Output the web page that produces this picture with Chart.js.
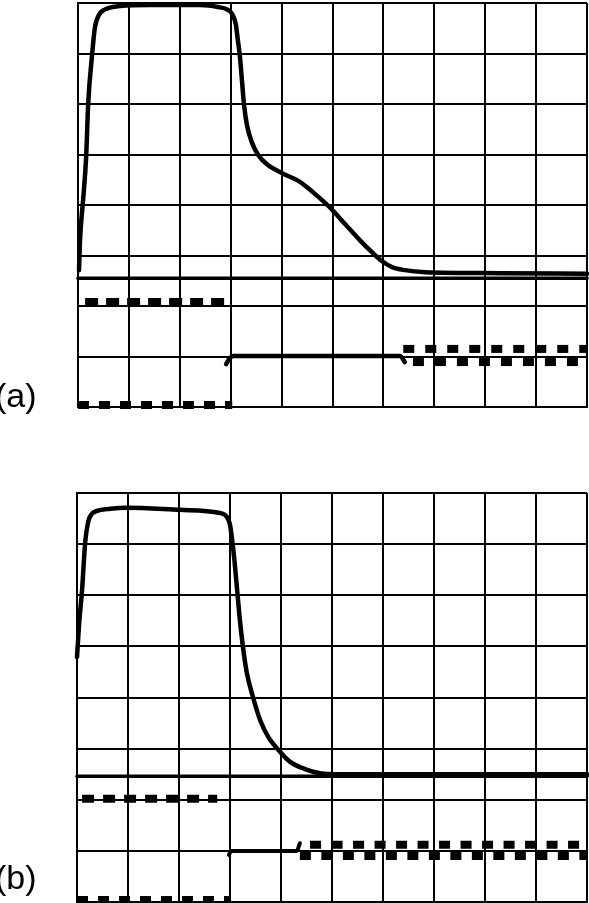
<!DOCTYPE html>
<html>
<head>
<meta charset="utf-8">
<script src="https://cdn.jsdelivr.net/npm/chart.js@4.4.1/dist/chart.umd.min.js"></script>
<style>
  html, body { margin: 0; padding: 0; background: #fff; }
  body { width: 589px; height: 903px; position: relative; overflow: hidden; }
  canvas { position: absolute; left: 0; }
  #cTop { top: 0; }
  #cBot { top: 488px; }
  .lbl { position: absolute; left: -5px; font-family: "Liberation Sans", Arial, sans-serif; font-size: 34px; line-height: 34px; color: #000; }
</style>
</head>
<body>
<canvas id="cTop" width="589" height="412"></canvas>
<canvas id="cBot" width="589" height="415"></canvas>
<div class="lbl" style="top:378px">(a)</div>
<div class="lbl" style="top:860px">(b)</div>
<script>
// Axis divisions (oscilloscope graticule)
const xDivisions = [0, 10];
const yDivisions = [0, 8];

// Panel (a): analog trace (x, y in divisions)
const traceAX = [0.02,0.04,0.10,0.16,0.20,0.28,0.33,0.41,0.55,0.83,1.41,2.40,2.75,2.93,3.03,3.10,3.14,3.18,3.22,3.26,3.32,3.42,3.54,3.73,4.01,4.36,4.62,4.95,5.25,5.54,5.78,5.97,6.17,6.42,6.82,8.29,10.0];
const traceAY = [2.71,3.31,4.10,4.95,6.00,7.01,7.50,7.76,7.88,7.94,7.96,7.96,7.92,7.87,7.78,7.58,7.27,6.95,6.48,6.00,5.58,5.23,4.99,4.79,4.63,4.46,4.25,3.95,3.62,3.30,3.06,2.89,2.77,2.71,2.67,2.65,2.64];
const baselineA = 2.55;
// Panel (a): digital lines
const gateHighA = { x: [0.14, 2.89], y: 2.08 };
const gateLowA  = { x: [0.00, 3.03], y: 0.04 };
const levelAX = [2.91, 2.97, 3.05, 6.33, 6.42];
const levelAY = [0.85, 0.95, 1.01, 1.01, 0.89];
const clockHighA = { x: [6.39, 10.0], y: 1.15 };
const clockLowA  = { x: [6.58, 10.0], y: 0.89 };

// Panel (b): analog trace
const traceBX = [0.00,0.04,0.10,0.16,0.22,0.29,0.39,0.65,0.98,2.02,2.80,2.94,3.00,3.04,3.09,3.14,3.19,3.25,3.33,3.45,3.59,3.75,3.98,4.18,4.47,4.76,5.16,10.0];
const traceBY = [4.79,5.42,6.11,7.03,7.44,7.59,7.65,7.69,7.71,7.67,7.61,7.53,7.38,7.10,6.65,6.10,5.55,5.02,4.48,4.01,3.56,3.23,2.94,2.74,2.60,2.52,2.50,2.50];
const baselineB = 2.46;
// Panel (b): digital lines
const gateHighB = { x: [0.10, 2.75], y: 2.02 };
const gateLowB  = { x: [0.00, 3.00], y: 0.04 };
const levelBX = [2.98, 3.02, 4.31, 4.37];
const levelBY = [0.92, 1.00, 1.00, 1.15];
const clockHighB = { x: [4.57, 10.0], y: 1.12 };
const clockLowB  = { x: [4.37, 10.0], y: 0.90 };

function pts(xs, ys) { return xs.map((x, i) => ({ x: x, y: ys[i] })); }
function flat(seg) { return seg.x.map(x => ({ x: x, y: seg.y })); }

function line(data, width, dash) {
  return {
    data: data,
    borderColor: '#000',
    borderWidth: width,
    borderDash: dash || [],
    borderCapStyle: dash ? 'butt' : 'round',
    borderJoinStyle: 'round',
    pointRadius: 0,
    cubicInterpolationMode: dash ? 'default' : 'monotone',
    tension: 0,
    fill: false,
    clip: false
  };
}

function makeChart(id, datasets, pad) {
  return new Chart(document.getElementById(id), {
    type: 'line',
    data: { datasets: datasets },
    options: {
      responsive: false,
      animation: false,
      devicePixelRatio: 1,
      layout: { padding: pad },
      plugins: { legend: { display: false }, tooltip: { enabled: false } },
      scales: {
        x: {
          type: 'linear', min: xDivisions[0], max: xDivisions[1],
          ticks: { display: false, stepSize: 1 },
          grid: { color: '#000', lineWidth: 2, drawTicks: false },
          border: { color: '#000', width: 2 }
        },
        y: {
          type: 'linear', min: yDivisions[0], max: yDivisions[1],
          ticks: { display: false, stepSize: 1 },
          grid: { color: '#000', lineWidth: 2, drawTicks: false },
          border: { color: '#000', width: 2 }
        }
      }
    }
  });
}

makeChart('cTop', [
  line(pts(traceAX, traceAY), 4.5),
  line([{ x: 0, y: baselineA }, { x: 10, y: baselineA }], 3.5),
  line(flat(gateHighA), 8, [13, 8]),
  line(flat(gateLowA), 8, [11, 10]),
  line(pts(levelAX, levelAY), 4.5),
  line(flat(clockHighA), 8, [11, 11]),
  line(flat(clockLowA), 8, [11, 11])
], { left: 78, right: 2, top: 3, bottom: 5 });

makeChart('cBot', [
  line(pts(traceBX, traceBY), 4.5),
  line([{ x: 0, y: baselineB }, { x: 10, y: baselineB }], 3.5),
  line(flat(gateHighB), 8, [12, 9]),
  line(flat(gateLowB), 8, [11, 10]),
  line(pts(levelBX, levelBY), 4),
  line(flat(clockHighB), 8, [11, 10.5]),
  line(flat(clockLowB), 8, [11, 10.5])
], { left: 77, right: 2, top: 5, bottom: 1 });
</script>
</body>
</html>
